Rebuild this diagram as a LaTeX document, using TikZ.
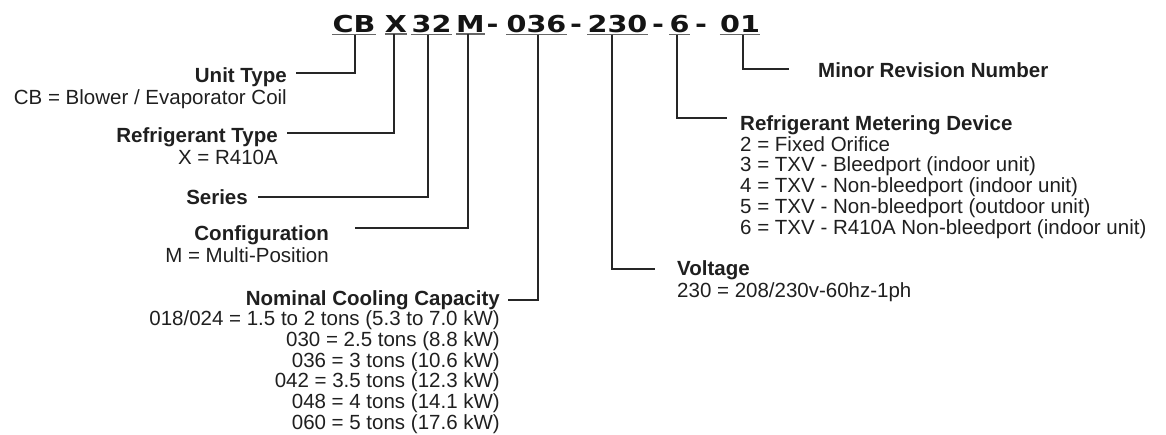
\documentclass[tikz,border=0pt]{standalone}
\usepackage{fontspec}
\setmainfont{Liberation Sans}
\newfontface\codefont[FakeStretch=1.23]{DejaVu Sans Bold}
\begin{document}
\begin{tikzpicture}[x=1pt,y=-1pt,
  txt/.style={inner sep=0pt,font=\fontsize{20.5}{20.8}\selectfont,text=black!88},
  lblR/.style={txt,anchor=base east},
  lblL/.style={txt,anchor=base west},
  head/.style={font=\fontsize{20.5}{20.8}\selectfont\bfseries},
  code/.style={inner sep=0pt,anchor=base,font=\codefont\fontsize{23.3}{24}\selectfont,text=black!92},
  uline/.style={draw=black!60,line width=1.6pt},
  conn/.style={draw=black!85,line width=1.6pt}]
\useasboundingbox (0,0) rectangle (1166,434);
% code string
\node[code] (cb)  at (354,32)   {CB};
\node[code] (cx)  at (396,32)   {X};
\node[code] (c32) at (431.5,32) {32};
\node[code] (cm)  at (470.5,32) {M};
\node[code] (d1)  at (492.5,32) {-};
\node[code] (c036) at (536.5,32) {036};
\node[code] (d2)  at (576,32)   {-};
\node[code] (c230) at (617.5,32) {230};
\node[code] (d3)  at (658,32)   {-};
\node[code] (c6)  at (679.5,32) {6};
\node[code] (d4)  at (701,32)   {-};
\node[code] (c01) at (740,32)   {01};
\foreach \n in {cb,cx,c32,cm,c036,c230,c6,c01}
  \draw[uline] ([yshift=-2pt]\n.south west) -- ([yshift=-2pt]\n.south east);
% left labels
\node[lblR,head] (ut) at (287,82) {Unit Type};
\node[lblR] (utd) at (287,104) {CB = Blower / Evaporator Coil};
\node[lblR,head] (rt) at (278,142) {Refrigerant Type};
\node[lblR] (rtd) at (278,164) {X = R410A};
\node[lblR,head] (se) at (248,204) {Series};
\node[lblR,head] (cf) at (329,240) {Configuration};
\node[lblR] (cfd) at (329,262) {M = Multi-Position};
\node[lblR,head] (nc) at (500,305) {Nominal Cooling Capacity};
\node[lblR] (nc1) at (500,325.5) {018/024 = 1.5 to 2 tons (5.3 to 7.0 kW)};
\node[lblR] (nc2) at (500,346.3) {030 = 2.5 tons (8.8 kW)};
\node[lblR] (nc3) at (500,367.1) {036 = 3 tons (10.6 kW)};
\node[lblR] (nc4) at (500,387.9) {042 = 3.5 tons (12.3 kW)};
\node[lblR] (nc5) at (500,408.7) {048 = 4 tons (14.1 kW)};
\node[lblR] (nc6) at (500,429.5) {060 = 5 tons (17.6 kW)};
% right labels
\node[lblL,head] (mr) at (818,77) {Minor Revision Number};
\node[lblL,head] (md) at (740,130) {Refrigerant Metering Device};
\node[lblL] (md1) at (740,151) {2 = Fixed Orifice};
\node[lblL] (md2) at (740,171.8) {3 = TXV - Bleedport (indoor unit)};
\node[lblL] (md3) at (740,192.6) {4 = TXV - Non-bleedport (indoor unit)};
\node[lblL] (md4) at (740,213.4) {5 = TXV - Non-bleedport (outdoor unit)};
\node[lblL] (md5) at (740,234.2) {6 = TXV - R410A Non-bleedport (indoor unit)};
\node[lblL,head] (vo) at (677,275) {Voltage};
\node[lblL] (vod) at (677,297) {230 = 208/230v-60hz-1ph};
% connectors
\draw[conn] ([xshift=1pt,yshift=-2pt]cb.south)    |- ([xshift=9pt,yshift=9pt]ut.base east);
\draw[conn] ([xshift=-2pt,yshift=-2pt]cx.south)   |- ([xshift=9pt,yshift=9pt]rt.base east);
\draw[conn] ([xshift=-3.5pt,yshift=-2pt]c32.south) |- ([xshift=10pt,yshift=7pt]se.base east);
\draw[conn] ([xshift=-2.5pt,yshift=-2pt]cm.south) |- ([xshift=26pt,yshift=12pt]cf.base east);
\draw[conn] ([xshift=1.5pt,yshift=-2pt]c036.south) |- ([xshift=8pt,yshift=5pt]nc.base east);
\draw[conn] ([xshift=-5.5pt,yshift=-2pt]c230.south) |- ([xshift=-22pt,yshift=6pt]vo.base west);
\draw[conn] ([xshift=-2.5pt,yshift=-2pt]c6.south) |- ([xshift=-13pt,yshift=12pt]md.base west);
\draw[conn] ([xshift=3pt,yshift=-2pt]c01.south)   |- ([xshift=-29pt,yshift=8pt]mr.base west);
\end{tikzpicture}
\end{document}
